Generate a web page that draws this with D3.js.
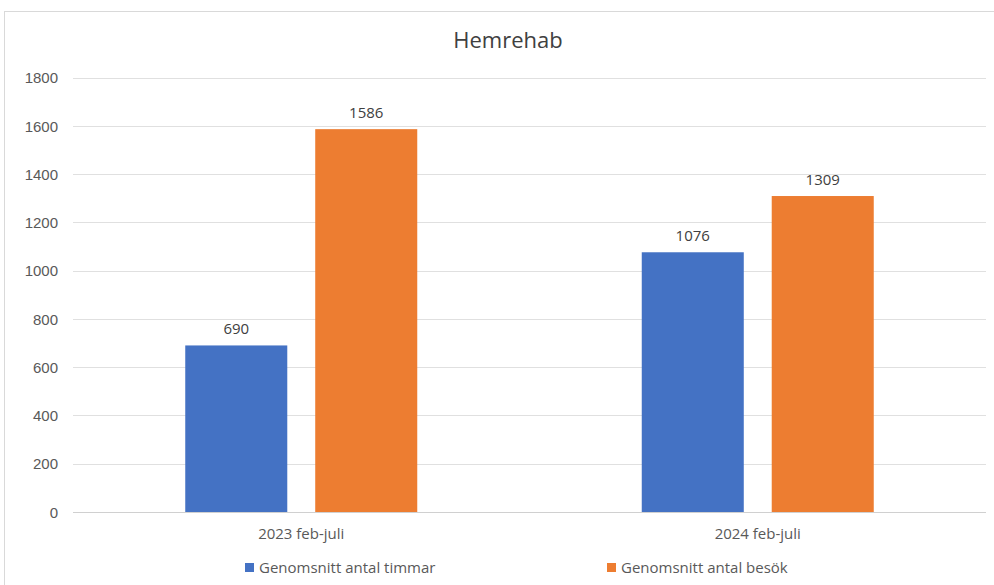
<!DOCTYPE html>
<html lang="sv">
<head>
<meta charset="utf-8">
<title>Hemrehab</title>
<script src="https://cdn.jsdelivr.net/npm/d3@7"></script>
<style>
    body { margin: 0; background: #fff; }
    svg { font-family: "Open Sans", "Noto Sans", sans-serif; }
    .tick text { fill: #595959; font-size: 15px; }
</style>
</head>
<body>
<script>
    // data
    var categories = ['2023 feb-juli', '2024 feb-juli'];
    var seriesNames = ['Genomsnitt antal timmar', 'Genomsnitt antal besök'];
    var timmar = [690, 1076];
    var besok = [1586, 1309];
    var yTicks = [0, 200, 400, 600, 800, 1000, 1200, 1400, 1600, 1800];
    var colors = ['#4472c4', '#ed7d31'];

    var W = 994, H = 585;
    var svg = d3.select('body').append('svg')
        .attr('width', W).attr('height', H);

    // chart frame
    svg.append('rect')
        .attr('x', 4.5).attr('y', 11.5)
        .attr('width', 1200).attr('height', 1000)
        .attr('fill', 'none').attr('stroke', '#d9d9d9');

    var plotLeft = 73, plotRight = 986, plotTop = 77.5, plotBottom = 512;

    var x = d3.scaleBand().domain(categories).range([plotLeft, plotRight]).padding(0);
    var y = d3.scaleLinear().domain([0, 1800]).range([plotBottom, plotTop]);

    var groupW = 232;
    var x1 = d3.scaleBand().domain([0, 1]).range([0, groupW]).paddingInner(0.215);

    // gridlines
    svg.append('g')
        .selectAll('line').data(yTicks).enter().append('line')
        .attr('x1', plotLeft).attr('x2', plotRight)
        .attr('y1', function (d) { return Math.round(y(d)) + 0.5; })
        .attr('y2', function (d) { return Math.round(y(d)) + 0.5; })
        .attr('stroke', function (d) { return d === 0 ? '#d0d0d0' : '#e0e0e0'; })
        .attr('stroke-width', 1);

    var yAxis = svg.append('g')
        .attr('transform', 'translate(' + (plotLeft - 15) + ',0)')
        .call(d3.axisLeft(y).tickValues(yTicks).tickSize(0).tickPadding(0).tickFormat(d3.format('d')));
    yAxis.select('.domain').remove();
    yAxis.selectAll('text').attr('dy', '0.35em');

    var rows = categories.map(function (c, i) {
        return { cat: c, vals: [timmar[i], besok[i]] };
    });

    var groups = svg.selectAll('.grp').data(rows).enter().append('g')
        .attr('class', 'grp')
        .attr('transform', function (d) {
            return 'translate(' + (x(d.cat) + x.bandwidth() / 2 - groupW / 2) + ',0)';
        });

    groups.selectAll('rect').data(function (d) { return d.vals; }).enter().append('rect')
        .attr('x', function (d, i) { return x1(i); })
        .attr('width', x1.bandwidth())
        .attr('y', function (d) { return y(d); })
        .attr('height', function (d) { return y(0) - y(d); })
        .attr('fill', function (d, i) { return colors[i]; });

    groups.selectAll('.lbl').data(function (d) { return d.vals; }).enter().append('text')
        .attr('class', 'lbl')
        .attr('x', function (d, i) { return x1(i) + x1.bandwidth() / 2; })
        .attr('y', function (d) { return y(d) - 11; })
        .attr('text-anchor', 'middle')
        .attr('fill', '#404040')
        .attr('font-size', '15px')
        .text(function (d) { return d; });

    // category labels
    svg.selectAll('.cat').data(categories).enter().append('text')
        .attr('class', 'cat')
        .attr('x', function (d) { return x(d) + x.bandwidth() / 2; })
        .attr('y', 539)
        .attr('text-anchor', 'middle')
        .attr('fill', '#595959')
        .attr('font-size', '15px')
        .text(function (d) { return d; });

    // title
    svg.append('text')
        .attr('x', 508).attr('y', 48)
        .attr('text-anchor', 'middle')
        .attr('fill', '#404040')
        .attr('font-size', '22px')
        .text('Hemrehab');

    // legend
    var legendX = [245, 607];
    var leg = svg.selectAll('.leg').data(seriesNames).enter().append('g')
        .attr('class', 'leg')
        .attr('transform', function (d, i) { return 'translate(' + legendX[i] + ',567)'; });
    leg.append('rect')
        .attr('x', 0).attr('y', -4).attr('width', 9).attr('height', 9)
        .attr('fill', function (d, i) { return colors[i]; });
    leg.append('text')
        .attr('x', 14).attr('y', 0).attr('dy', '0.38em')
        .attr('fill', '#595959')
        .attr('font-size', '15px')
        .text(function (d) { return d; });
</script>
</body>
</html>
